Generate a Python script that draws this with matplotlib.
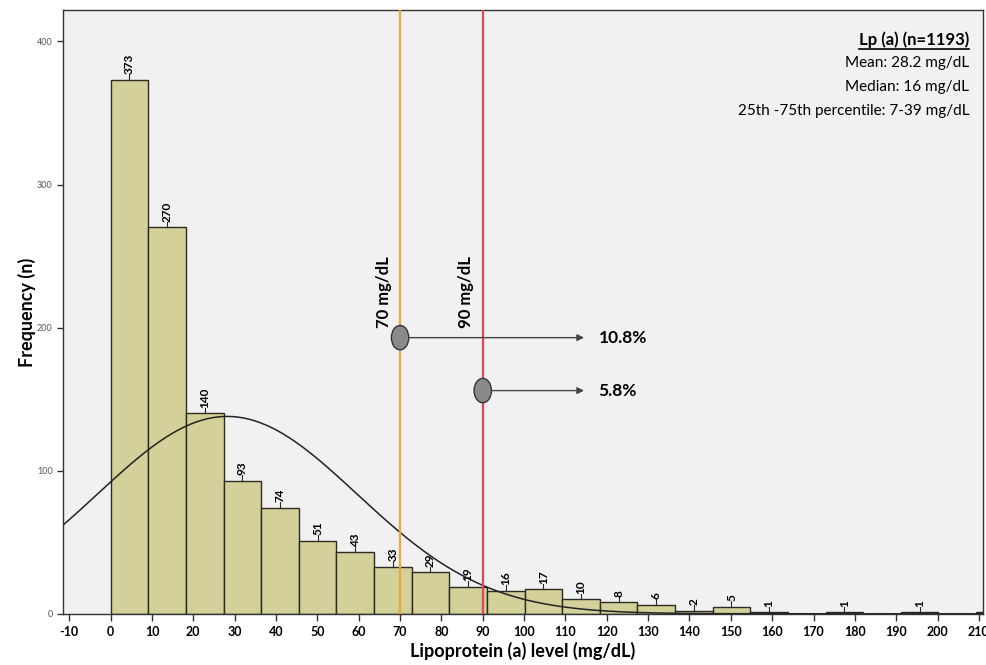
import numpy as np
import matplotlib
matplotlib.use("Agg")
import matplotlib.pyplot as plt
from matplotlib.patches import Ellipse
from matplotlib.lines import Line2D

# ---- data ----
bin_width = 9.1
counts = [373, 270, 140, 93, 74, 51, 43, 33, 29, 19, 16, 17, 10, 8, 6, 2, 5,
          1, 0, 1, 0, 1, 0, 1]
n_total = 1193
mean_val = 28.2
sd_val = 31.4
cutoffs = [70, 90]
cutoff_labels = ["70 mg/dL", "90 mg/dL"]
cutoff_colors = ["#f2a43a", "#e0465a"]
marker_y = [193, 156]
pct_labels = ["10.8%", "5.8%"]
xticks = list(range(-10, 211, 10))
yticks = [0, 100, 200, 300, 400]
stats_lines = ["Mean: 28.2 mg/dL", "Median: 16 mg/dL",
               "25th -75th percentile: 7-39 mg/dL"]
title_box = "Lp (a) (n=1193)"

plt.rcParams['font.family'] = ['Lato', 'DejaVu Sans']

fig = plt.figure(figsize=(9.86, 6.65), dpi=100)
ax = fig.add_axes([0.064, 0.077, 0.933, 0.908])
ax.set_facecolor("#f1f1f1")

lefts = np.arange(len(counts)) * bin_width
ax.bar(lefts, counts, width=bin_width, align='edge', color="#d3d09a",
       edgecolor="#2b2b20", linewidth=1.0, zorder=2)

# value labels with small tick
for l, c in zip(lefts, counts):
    if c <= 0:
        continue
    xc = l + bin_width / 2
    ax.plot([xc, xc], [c, c + 4], color="#2b2b20", lw=0.8, zorder=3)
    ax.text(xc, c + 4, str(c), rotation=90, ha='center', va='bottom',
            fontsize=8.5, fontweight='bold', zorder=4, clip_on=True)

# normal curve
xs = np.linspace(-12, 215, 500)
ys = n_total * bin_width / (sd_val * np.sqrt(2 * np.pi)) * np.exp(-0.5 * ((xs - mean_val) / sd_val) ** 2)
ax.plot(xs, ys, color="#222222", lw=1.1, zorder=5)

# cutoff lines
for x0, lab, col in zip(cutoffs, cutoff_labels, cutoff_colors):
    ax.axvline(x0, color=col, lw=1.6, zorder=6)
    ax.text(x0 - 2.0, 225, lab, rotation=90, ha='right', va='center',
            fontsize=12, fontweight='bold', zorder=7)

# markers and arrows
for x0, y0, lab in zip(cutoffs, marker_y, pct_labels):
    e = Ellipse((x0, y0), width=4.2, height=17, facecolor="#8a8a8a",
                edgecolor="#333333", lw=1.0, zorder=8)
    ax.add_patch(e)
    ax.annotate("", xy=(114.5, y0), xytext=(x0 + 2.1, y0),
                arrowprops=dict(arrowstyle='-|>', color="#444444", lw=1.0,
                                mutation_scale=10, shrinkA=0, shrinkB=0),
                zorder=8)
    ax.text(118, y0, lab, ha='left', va='center', fontsize=12.5,
            fontweight='bold', zorder=8)

ax.set_xlim(-11.5, 211)
ax.set_ylim(0, 422)
ax.set_xticks(xticks)
ax.set_xticklabels([str(t) for t in xticks], fontsize=9, fontweight='bold')
ax.set_yticks(yticks)
ax.set_yticklabels([str(t) for t in yticks], fontsize=6.5, color="#555555")
ax.tick_params(axis='x', length=5, width=1, color="#333333")
ax.tick_params(axis='y', length=4, width=1, color="#333333")
for s in ax.spines.values():
    s.set_color("#333333")
    s.set_linewidth(1)

ax.set_xlabel("Lipoprotein (a) level (mg/dL)", fontsize=13, fontweight='bold', labelpad=3)
ax.set_ylabel("Frequency (n)", fontsize=13, fontweight='bold', labelpad=1)

# stats box text
t = ax.text(0.985, 0.950, title_box, transform=ax.transAxes, ha='right', va='center',
            fontsize=12, fontweight='bold')
for i, s in enumerate(stats_lines):
    ax.text(0.985, 0.912 - i * 0.040, s, transform=ax.transAxes, ha='right',
            va='center', fontsize=11)

fig.canvas.draw()
bb = t.get_window_extent()
fw, fh = fig.bbox.width, fig.bbox.height
fig.add_artist(Line2D([bb.x0 / fw, bb.x1 / fw], [(bb.y0 - 1) / fh, (bb.y0 - 1) / fh],
                      transform=fig.transFigure, color='black', lw=1.2))

fig.savefig("out.png", dpi=100, facecolor='white')
